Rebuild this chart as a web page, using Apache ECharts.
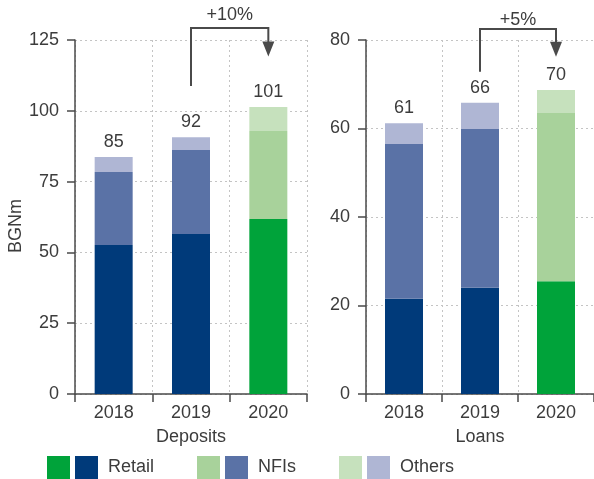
<!DOCTYPE html>
<html>
<head>
<meta charset="utf-8">
<script src="https://cdn.jsdelivr.net/npm/echarts@6/dist/echarts.min.js"></script>
<style>
html,body{margin:0;padding:0;background:#fff;}
#c{width:594px;height:479px;}
</style>
</head>
<body>
<div id="c"></div>
<script>
// ---- data ----
const years = ['2018', '2019', '2020'];
const depositsRetail = [52.6, 56.5, 61.8];
const depositsNFIs   = [25.8, 29.7, 31.1];
const depositsOthers = [5.3, 4.5, 8.4];
const depositsTotals = [85, 92, 101];

const loansRetail = [21.5, 24.0, 25.5];
const loansNFIs   = [35.0, 35.9, 38.0];
const loansOthers = [4.7, 5.9, 5.2];
const loansTotals = [61, 66, 70];

const depositsTicks = [0, 25, 50, 75, 100, 125];
const loansTicks = [0, 20, 40, 60, 80];

const growthLabels = ['+10%', '+5%'];
// bracket: [start value at 2019, top value, arrow tip value at 2020]
const depositsBracket = [108.8, 129.2, 119.2];
const loansBracket = [72.8, 82.5, 76.2];

const seriesNames = ['Retail', 'NFIs', 'Others'];

// ---- styles ----
const FONT = '"Liberation Sans", Arial, sans-serif';
const TXT = '#3c3c3c';
const AXIS = '#4a4a4a';
const GRIDC = '#c4c4c4';
const colors2020 = ['#00a33a', '#a8d29b', '#c6e1bd'];
const colorsOld = ['#003a7a', '#5a72a6', '#afb6d4'];
const legendLefts = [47, 197, 339];

const chart = echarts.init(document.getElementById('c'), null, {renderer: 'canvas'});

function xAxisCfg(gridIndex, name) {
  return {
    type: 'category', gridIndex, data: years,
    name, nameLocation: 'middle', nameGap: 34,
    nameTextStyle: {fontFamily: FONT, fontSize: 18, color: TXT},
    axisLine: {show: true, lineStyle: {color: AXIS, width: 1.5}},
    axisTick: {show: true, length: 8, lineStyle: {color: AXIS, width: 1.5}},
    axisLabel: {fontFamily: FONT, fontSize: 18, color: TXT, margin: 10},
    splitLine: {show: true, lineStyle: {color: GRIDC, type: [2, 3], width: 1}}
  };
}
function yAxisCfg(gridIndex, ticks, name) {
  const step = ticks[1] - ticks[0];
  return {
    type: 'value', gridIndex,
    min: ticks[0], max: ticks[ticks.length - 1], interval: step,
    name: name || '', nameLocation: 'middle', nameGap: 48,
    nameTextStyle: {fontFamily: FONT, fontSize: 18, color: TXT, padding: [0, 18, 0, 0]},
    axisLine: {show: true, lineStyle: {color: AXIS, width: 1.5}},
    axisTick: {show: true, length: 8, lineStyle: {color: AXIS, width: 1.5}},
    axisLabel: {fontFamily: FONT, fontSize: 18, color: TXT, margin: 16},
    splitLine: {show: true, lineStyle: {color: GRIDC, type: [2, 3], width: 1}}
  };
}

function barSeries(gridIdx, name, data, layer, totals) {
  const s = {
    type: 'bar', name, stack: 'g' + gridIdx,
    xAxisIndex: gridIdx, yAxisIndex: gridIdx,
    data, barWidth: 38,
    itemStyle: {color: p => p.dataIndex === 2 ? colors2020[layer] : colorsOld[layer]},
    emphasis: {disabled: true}
  };
  if (totals) {
    s.label = {
      show: true, position: 'top', distance: 6,
      fontFamily: FONT, fontSize: 18, color: TXT,
      formatter: p => String(totals[p.dataIndex])
    };
  }
  return s;
}

const legends = seriesNames.map((n, i) => ({
  left: legendLefts[i], top: 456, padding: 0,
  itemWidth: 23, itemHeight: 23, itemGap: 0,
  icon: 'rect', selectedMode: false,
  data: [{name: n, itemStyle: {color: colors2020[i]}}],
  formatter: name => '{sw|}{gap|}{t|' + name + '}',
  textStyle: {
    rich: {
      sw: {backgroundColor: colorsOld[i], width: 23, height: 23},
      gap: {width: 10, height: 23},
      t: {fontFamily: FONT, fontSize: 18, color: TXT}
    }
  }
}));

const option = {
  animation: false,
  backgroundColor: '#fff',
  grid: [
    {left: 75, top: 40, width: 232, bottom: 85},
    {left: 366, top: 40, width: 232, bottom: 85}
  ],
  xAxis: [xAxisCfg(0, 'Deposits'), xAxisCfg(1, 'Loans')],
  yAxis: [yAxisCfg(0, depositsTicks, 'BGNm'), yAxisCfg(1, loansTicks)],
  legend: legends,
  series: [
    barSeries(0, 'Retail', depositsRetail, 0),
    barSeries(0, 'NFIs', depositsNFIs, 1),
    barSeries(0, 'Others', depositsOthers, 2, depositsTotals),
    barSeries(1, 'Retail', loansRetail, 0),
    barSeries(1, 'NFIs', loansNFIs, 1),
    barSeries(1, 'Others', loansOthers, 2, loansTotals)
  ]
};
chart.setOption(option);

function bracket(gridIndex, vals, label, textDy) {
  const p0 = chart.convertToPixel({gridIndex}, [1, vals[0]]);
  const pTop = chart.convertToPixel({gridIndex}, [1, vals[1]]);
  const pEndTop = chart.convertToPixel({gridIndex}, [2, vals[1]]);
  const pTip = chart.convertToPixel({gridIndex}, [2, vals[2]]);
  const headH = 15, headW = 12;
  return [
    {type: 'polyline', shape: {points: [p0, pTop, pEndTop, [pTip[0], pTip[1] - headH + 1]]},
     style: {stroke: AXIS, lineWidth: 2, fill: null}, z: 10},
    {type: 'polygon', shape: {points: [[pTip[0] - headW / 2, pTip[1] - headH], [pTip[0] + headW / 2, pTip[1] - headH], pTip]},
     style: {fill: AXIS}, z: 10},
    {type: 'text', x: (pTop[0] + pEndTop[0]) / 2, y: pTop[1] - textDy,
     style: {text: label, font: '18px ' + FONT, fill: TXT, align: 'center', verticalAlign: 'middle'}, z: 10}
  ];
}
chart.setOption({
  graphic: [].concat(
    bracket(0, depositsBracket, growthLabels[0], 13),
    bracket(1, loansBracket, growthLabels[1], 9)
  )
});
</script>
</body>
</html>
